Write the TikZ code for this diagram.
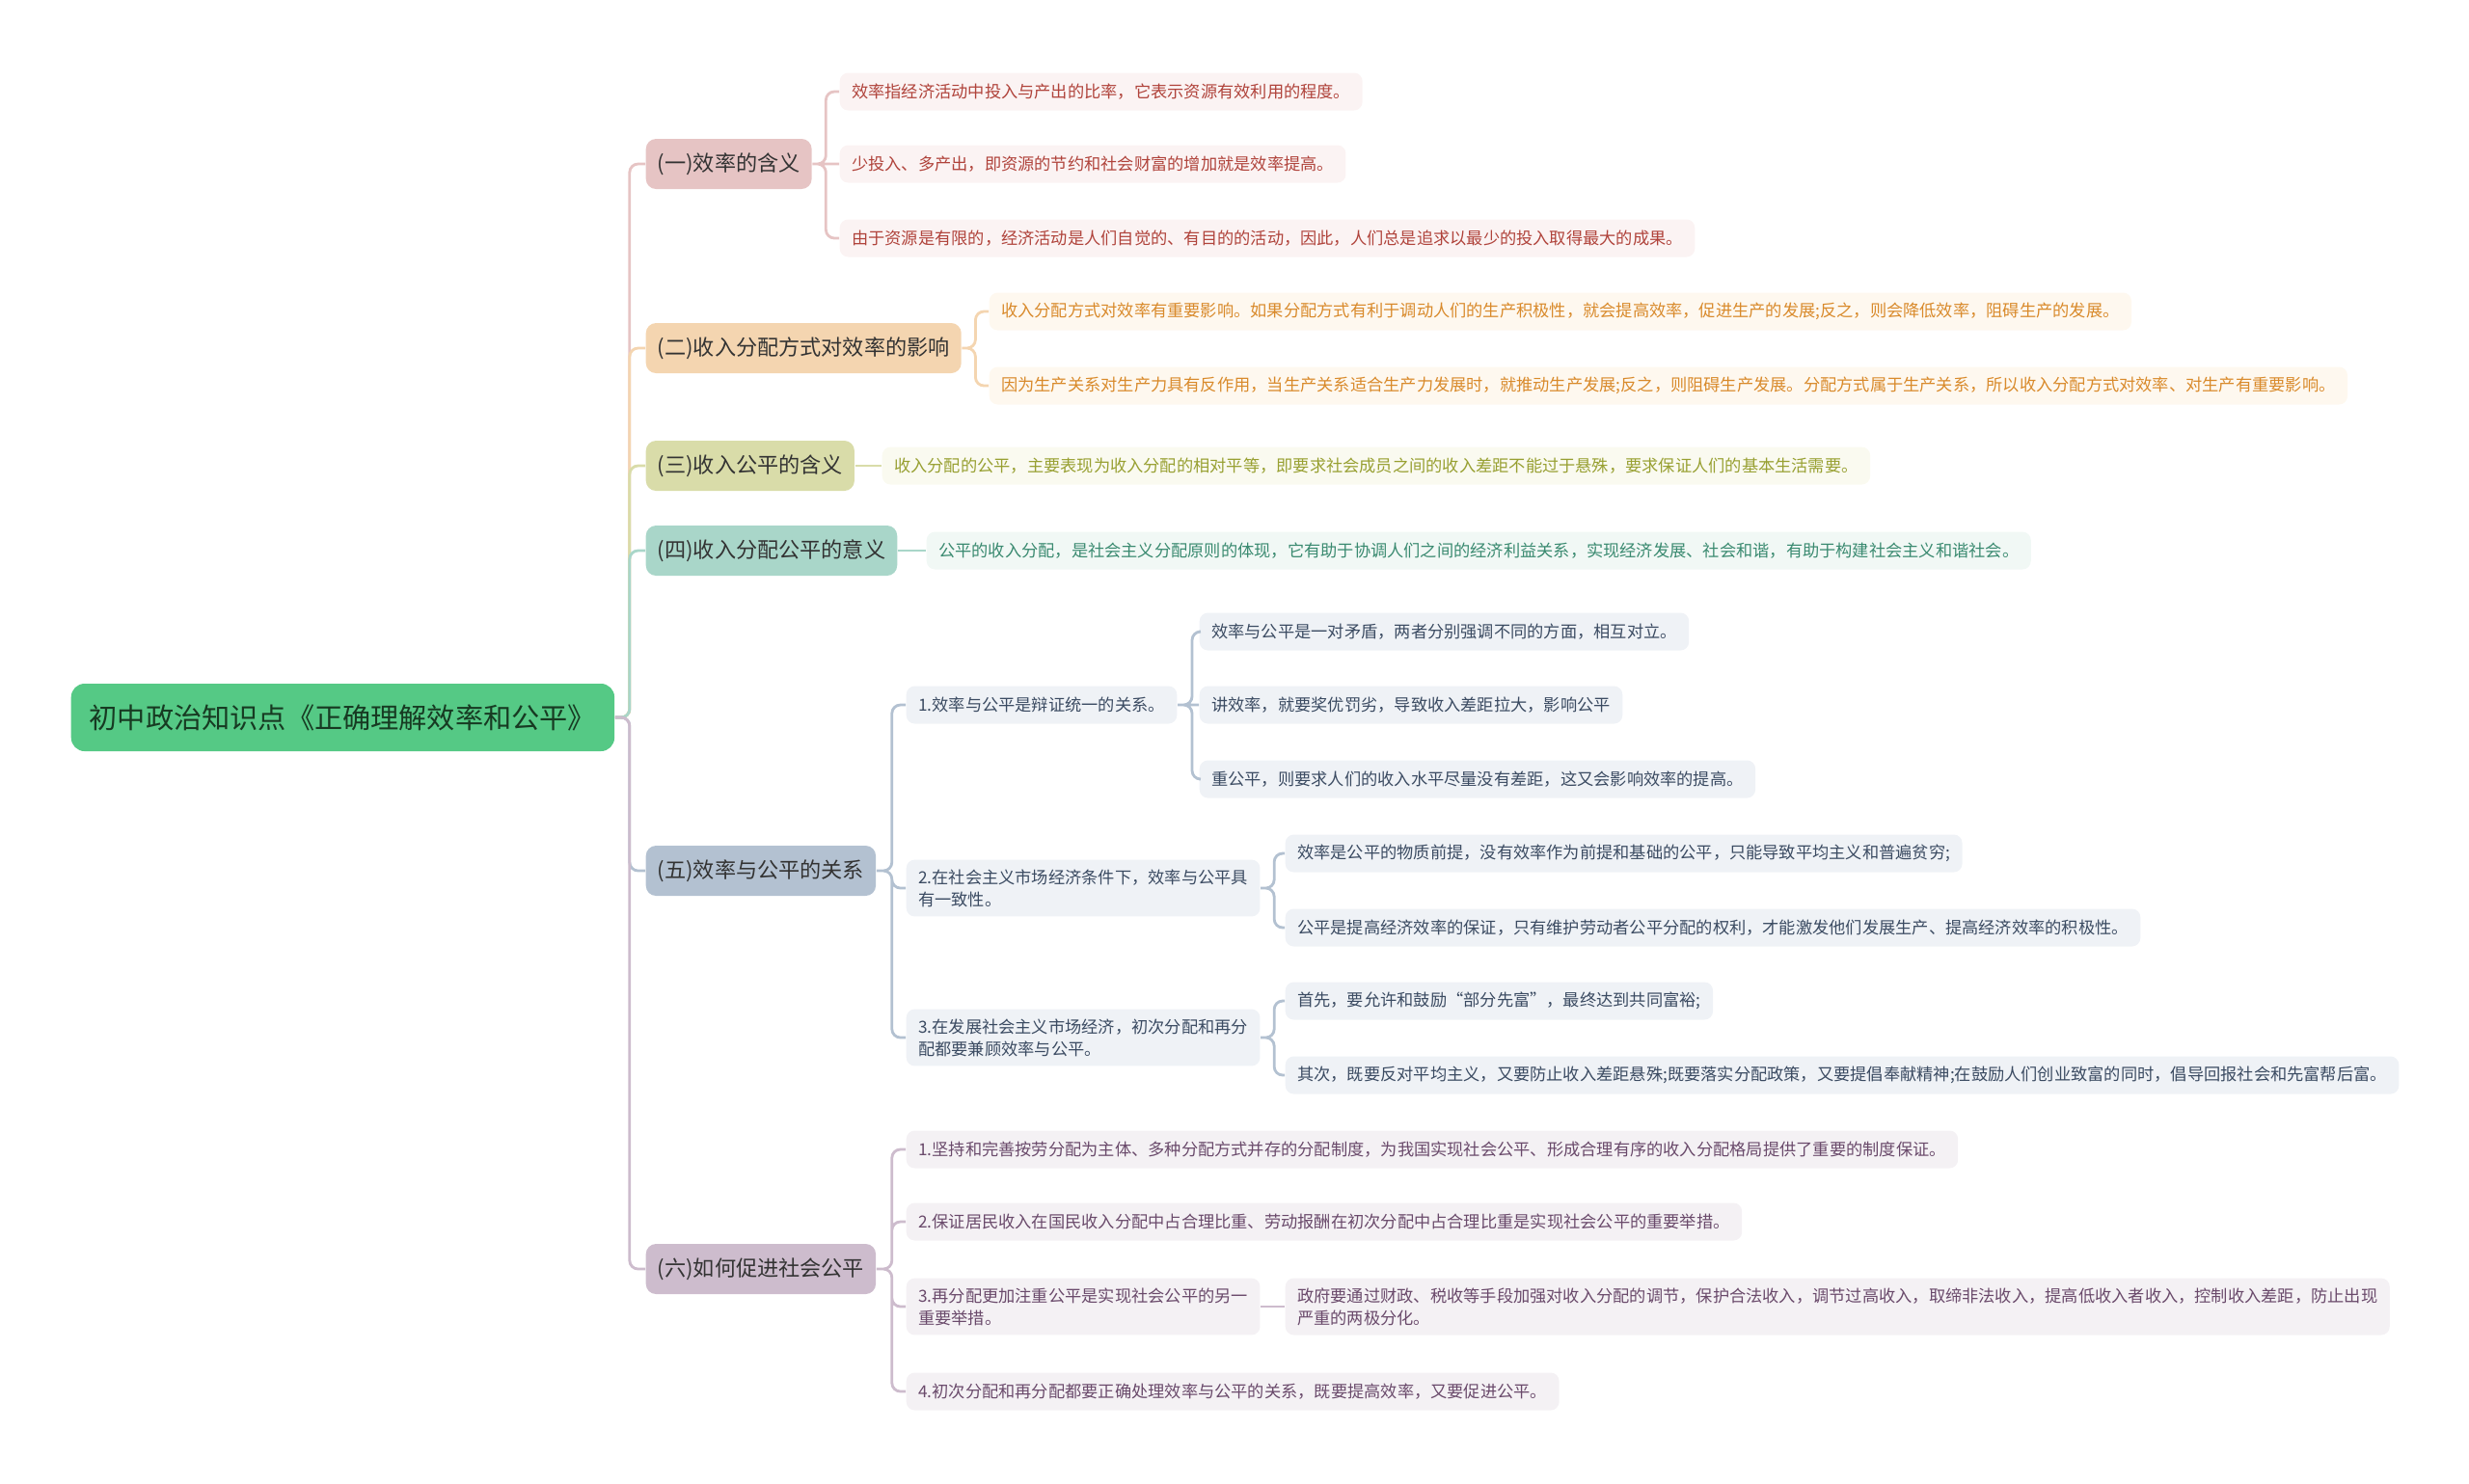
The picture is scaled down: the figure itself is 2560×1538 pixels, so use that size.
\documentclass[tikz,border=0pt]{standalone}
\usepackage{fontspec}
\setmainfont{Noto Sans CJK SC}
\usetikzlibrary{calc}
\definecolor{rootg}{HTML}{55C985}
\definecolor{roott}{HTML}{173A22}
\definecolor{pkA}{HTML}{E6C4C4}\definecolor{pkB}{HTML}{FBF3F3}\definecolor{pkC}{HTML}{B0433B}
\definecolor{orA}{HTML}{F4D5B0}\definecolor{orB}{HTML}{FEF8EF}\definecolor{orC}{HTML}{D98A2B}
\definecolor{olA}{HTML}{D9DCA9}\definecolor{olB}{HTML}{FAFAF0}\definecolor{olC}{HTML}{98A032}
\definecolor{tlA}{HTML}{A9D6C9}\definecolor{tlB}{HTML}{F1F8F5}\definecolor{tlC}{HTML}{3A8A70}
\definecolor{blA}{HTML}{B3C1D1}\definecolor{blB}{HTML}{EFF2F6}\definecolor{blC}{HTML}{3B4B62}
\definecolor{ppA}{HTML}{CDBCCD}\definecolor{ppB}{HTML}{F4F1F4}\definecolor{ppC}{HTML}{6A4A6B}
\tikzset{rootbox/.style={fill=rootg,text=roott,rounded corners=4pt,inner xsep=0.19cm,minimum height=0.7cm,anchor=west,font=\fontsize{8.3}{10}\selectfont},
topic/.style={fill=#1,text=black!80,rounded corners=3pt,inner xsep=0.12cm,minimum height=0.52cm,anchor=west,font=\fontsize{6.3}{8}\selectfont},
leaf/.style 2 args={fill=#1,text=#2,rounded corners=2.5pt,inner xsep=0.125cm,inner ysep=0.1cm,minimum height=0.39cm,anchor=west,align=left,font=\fontsize{4.9}{6.5}\selectfont},
link/.style={draw=#1,line width=0.8pt,rounded corners=2.5pt}}

\begin{document}
\begin{tikzpicture}[x=0.01cm,y=-0.01cm]
\useasboundingbox (0,0) rectangle (2560,1538);
\node[rootbox] (root) at (73,744) {初中政治知识点《正确理解效率和公平》};

\node[topic=pkA] (t1) at (669,170) {(一)效率的含义};
\node[topic=orA] (t2) at (669,361) {(二)收入分配方式对效率的影响};
\node[topic=olA] (t3) at (669,483) {(三)收入公平的含义};
\node[topic=tlA] (t4) at (669,571) {(四)收入分配公平的意义};
\node[topic=blA] (t5) at (669,903) {(五)效率与公平的关系};
\node[topic=ppA] (t6) at (669,1316) {(六)如何促进社会公平};

% (一)
\node[leaf={pkB}{pkC}] (l1a) at (870,95) {效率指经济活动中投入与产出的比率，它表示资源有效利用的程度。};
\node[leaf={pkB}{pkC}] (l1b) at (870,170) {少投入、多产出，即资源的节约和社会财富的增加就是效率提高。};
\node[leaf={pkB}{pkC}] (l1c) at (870,247) {由于资源是有限的，经济活动是人们自觉的、有目的的活动，因此，人们总是追求以最少的投入取得最大的成果。};
% (二)
\node[leaf={orB}{orC}] (l2a) at (1025,323) {收入分配方式对效率有重要影响。如果分配方式有利于调动人们的生产积极性，就会提高效率，促进生产的发展;反之，则会降低效率，阻碍生产的发展。};
\node[leaf={orB}{orC}] (l2b) at (1025,400) {因为生产关系对生产力具有反作用，当生产关系适合生产力发展时，就推动生产发展;反之，则阻碍生产发展。分配方式属于生产关系，所以收入分配方式对效率、对生产有重要影响。};
% (三) (四)
\node[leaf={olB}{olC}] (l3a) at (914,483) {收入分配的公平，主要表现为收入分配的相对平等，即要求社会成员之间的收入差距不能过于悬殊，要求保证人们的基本生活需要。};
\node[leaf={tlB}{tlC}] (l4a) at (960,571) {公平的收入分配，是社会主义分配原则的体现，它有助于协调人们之间的经济利益关系，实现经济发展、社会和谐，有助于构建社会主义和谐社会。};
% (五)
\node[leaf={blB}{blC}] (s1) at (939,731) {1.效率与公平是辩证统一的关系。};
\node[leaf={blB}{blC}] (s2) at (939,921) {2.在社会主义市场经济条件下，效率与公平具\\有一致性。};
\node[leaf={blB}{blC}] (s3) at (939,1076) {3.在发展社会主义市场经济，初次分配和再分\\配都要兼顾效率与公平。};
\node[leaf={blB}{blC}] (s1a) at (1243,655) {效率与公平是一对矛盾，两者分别强调不同的方面，相互对立。};
\node[leaf={blB}{blC}] (s1b) at (1243,731) {讲效率，就要奖优罚劣，导致收入差距拉大，影响公平};
\node[leaf={blB}{blC}] (s1c) at (1243,808) {重公平，则要求人们的收入水平尽量没有差距，这又会影响效率的提高。};
\node[leaf={blB}{blC}] (s2a) at (1332,885) {效率是公平的物质前提，没有效率作为前提和基础的公平，只能导致平均主义和普遍贫穷;};
\node[leaf={blB}{blC}] (s2b) at (1332,962) {公平是提高经济效率的保证，只有维护劳动者公平分配的权利，才能激发他们发展生产、提高经济效率的积极性。};
\node[leaf={blB}{blC}] (s3a) at (1332,1038) {首先，要允许和鼓励“部分先富”，最终达到共同富裕;};
\node[leaf={blB}{blC}] (s3b) at (1332,1115) {其次，既要反对平均主义，又要防止收入差距悬殊;既要落实分配政策，又要提倡奉献精神;在鼓励人们创业致富的同时，倡导回报社会和先富帮后富。};
% (六)
\node[leaf={ppB}{ppC}] (p1) at (939,1192) {1.坚持和完善按劳分配为主体、多种分配方式并存的分配制度，为我国实现社会公平、形成合理有序的收入分配格局提供了重要的制度保证。};
\node[leaf={ppB}{ppC}] (p2) at (939,1267) {2.保证居民收入在国民收入分配中占合理比重、劳动报酬在初次分配中占合理比重是实现社会公平的重要举措。};
\node[leaf={ppB}{ppC}] (p3) at (939,1355) {3.再分配更加注重公平是实现社会公平的另一\\重要举措。};
\node[leaf={ppB}{ppC}] (p4) at (939,1443) {4.初次分配和再分配都要正确处理效率与公平的关系，既要提高效率，又要促进公平。};
\node[leaf={ppB}{ppC}] (p3a) at (1332,1355) {政府要通过财政、税收等手段加强对收入分配的调节，保护合法收入，调节过高收入，取缔非法收入，提高低收入者收入，控制收入差距，防止出现\\严重的两极分化。};

\draw[link=pkA] (root.east) -- ++(15,0) |- (t1.west);
\draw[link=orA] (root.east) -- ++(15,0) |- (t2.west);
\draw[link=olA] (root.east) -- ++(15,0) |- (t3.west);
\draw[link=tlA] (root.east) -- ++(15,0) |- (t4.west);
\draw[link=blA] (root.east) -- ++(15,0) |- (t5.west);
\draw[link=ppA] (root.east) -- ++(15,0) |- (t6.west);

\draw[link=pkA] (t1.east) -- ++(14,0) |- (l1a.west) (t1.east) -- (l1b.west) (t1.east) -- ++(14,0) |- (l1c.west);
\draw[link=orA] (t2.east) -- ++(14,0) |- (l2a.west) (t2.east) -- ++(14,0) |- (l2b.west);
\draw[link=olA] (t3.east) -- (l3a.west);
\draw[link=tlA] (t4.east) -- (l4a.west);

\draw[link=blA] (t5.east) -- ++(16,0) |- (s1.west) (t5.east) -- ++(16,0) |- (s2.west) (t5.east) -- ++(16,0) |- (s3.west);
\draw[link=blA] (s1.east) -- ++(15,0) |- (s1a.west) (s1.east) -- (s1b.west) (s1.east) -- ++(15,0) |- (s1c.west);
\draw[link=blA] (s2.east) -- ++(14,0) |- (s2a.west) (s2.east) -- ++(14,0) |- (s2b.west);
\draw[link=blA] (s3.east) -- ++(14,0) |- (s3a.west) (s3.east) -- ++(14,0) |- (s3b.west);

\draw[link=ppA] (t6.east) -- ++(16,0) |- (p1.west) (t6.east) -- ++(16,0) |- (p2.west) (t6.east) -- ++(16,0) |- (p3.west) (t6.east) -- ++(16,0) |- (p4.west);
\draw[link=ppA] (p3.east) -- (p3a.west);
\end{tikzpicture}
\end{document}
